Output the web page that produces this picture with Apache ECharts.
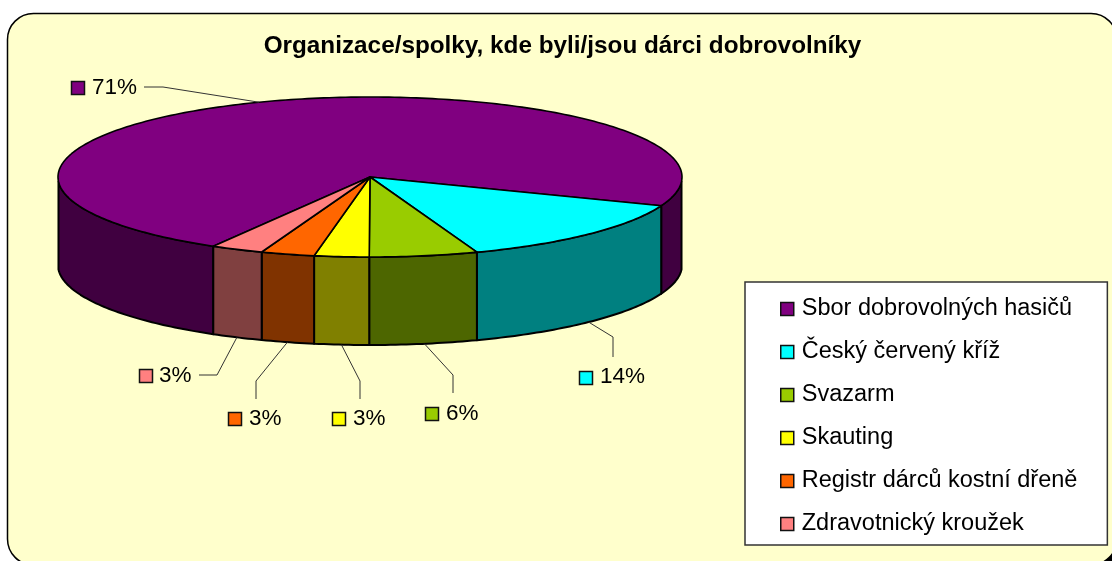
<!DOCTYPE html>
<html><head><meta charset="utf-8">
<style>html,body{margin:0;padding:0;background:#fff}#c{width:1112px;height:561px}</style>
<script src="https://cdn.jsdelivr.net/npm/echarts@6/dist/echarts.min.js"></script>
</head><body><div id="c"></div>
<script>
const titleText = 'Organizace/spolky, kde byli/jsou dárci dobrovolníky';
const categories = ['Sbor dobrovolných hasičů','Český červený kříž','Svazarm','Skauting','Registr dárců kostní dřeně','Zdravotnický kroužek'];
const counts = [25,5,2,1,1,1];
const topColors = ['#800080','#00FFFF','#99CC00','#FFFF00','#FF6600','#FF8080'];
const wallColors = ['#400040','#008080','#4D6600','#808000','#803300','#804040'];

// layout of the drawing, not data
const FONT = '"Liberation Sans", Arial, sans-serif';
const CX = 370, CY = 177, RX = 312, RY = 80, DEPTH = 88, START = 121, PERSPECTIVE = 3.2;
const leaderLayout = [
  {elbow:[[163,87],[144,87]], box:[71,81], text:[92,88], top:true},
  {elbow:[[613,337],[613,357]], box:[579,371], text:[600,377]},
  {elbow:[[453,375],[453,393]], box:[425,407], text:[446,414]},
  {elbow:[[360,381],[360,399]], box:[332,412], text:[353,419]},
  {elbow:[[256,381],[256,399]], box:[228,412], text:[249,419]},
  {elbow:[[217,375],[199,375]], box:[139,369], text:[159,376]}
];
const total = counts.reduce((a,b)=>a+b,0);
const starts = counts.map((_,i)=>START + counts.slice(0,i).reduce((a,b)=>a+b,0)/total*360);
const rim = (deg,dy=0)=>{
  // slight foreshortening of the tilted disc
  const c = Math.cos(deg*Math.PI/180);
  const t = (deg + PERSPECTIVE*c*Math.abs(c))*Math.PI/180;
  return [CX+RX*Math.cos(t),CY+RY*Math.sin(t)+dy];
};
const arc = (a,b,dy=0)=>{const p=[];const n=Math.max(2,Math.ceil(Math.abs(b-a)));for(let k=0;k<=n;k++)p.push(rim(a+(b-a)*k/n,dy));return p;};

function renderSlice(params){
  const i = params.seriesIndex, a = starts[i], b = a + counts[i]/total*360;
  const children = [];
  // outer walls: only the part of the rim that faces the viewer
  [[0,180],[360,540]].forEach(([lo,hi])=>{
    const s=Math.max(a,lo), e=Math.min(b,hi);
    if(e>s){
      children.push({type:'polygon',shape:{points:arc(s,e).concat(arc(s,e,DEPTH).reverse())},
        style:{fill:wallColors[i],stroke:'#000',lineWidth:2,lineJoin:'round'}});
    }
  });
  children.push({type:'polygon',shape:{points:[[CX,CY]].concat(arc(a,b))},
    style:{fill:topColors[i],stroke:'#000',lineWidth:1.6,lineJoin:'round'}});
  const L = leaderLayout[i], mid=(a+b)/2;
  const anchor = rim(mid, L.top?0:DEPTH);
  children.push({type:'polyline',shape:{points:[anchor].concat(L.elbow)},style:{fill:null,stroke:'#333',lineWidth:1},z2:5});
  children.push({type:'rect',shape:{x:L.box[0]+.5,y:L.box[1]+.5,width:13,height:13},style:{fill:topColors[i],stroke:'#111',lineWidth:1.5},z2:5});
  children.push({type:'text',x:L.text[0],y:L.text[1],style:{text:Math.round(counts[i]/total*100)+'%',font:'22.5px '+FONT,fill:'#000',verticalAlign:'middle',align:'left'},z2:5});
  return {type:'group',children};
}

const series = categories.map((name,i)=>({
  name, type:'custom', coordinateSystem:'none', renderItem:renderSlice, silent:true, animation:false,
  itemStyle:{color:topColors[i]}, data:[[counts[i]]], z:2
}));

const chart = echarts.init(document.getElementById('c'),null,{renderer:'canvas'});
chart.setOption({
  animation:false,
  backgroundColor:'#fff',
  title:{text:titleText,left:557.5,top:29,textAlign:'center',textStyle:{fontFamily:FONT,fontSize:24.3,fontWeight:'bold',color:'#000'}},
  graphic:[
    {type:'rect',z:-11,silent:true,shape:{x:1085,y:535,width:27,height:26},style:{fill:'#000'}},
    {type:'rect',z:-10,silent:true,shape:{x:7.5,y:13.5,width:1109.5,height:551.5,r:26},style:{fill:'#FFFFCC',stroke:'#000',lineWidth:1.5}}
  ],
  legend:{
    orient:'vertical',left:745,top:282,
    padding:[15,30,9,35],itemGap:19,itemWidth:13,itemHeight:13,
    backgroundColor:'#fff',borderColor:'#333',borderWidth:1.5,
    icon:'rect',selectedMode:false,
    itemStyle:{borderColor:'#111',borderWidth:1.5},
    textStyle:{fontFamily:FONT,fontSize:23.5,color:'#000',padding:[0,0,0,3]},
    data:categories
  },
  series
});
</script></body></html>
